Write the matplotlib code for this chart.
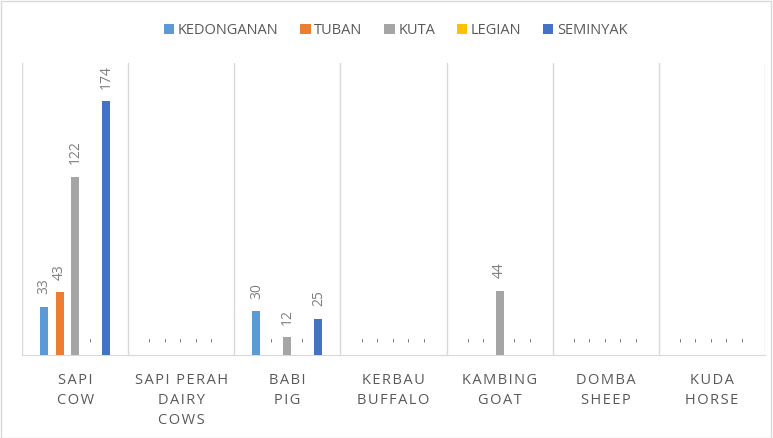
import matplotlib
matplotlib.use("Agg")
from matplotlib import pyplot as plt
import numpy as np

# data
categories = ["SAPI\nCOW", "SAPI PERAH\nDAIRY\nCOWS", "BABI\nPIG", "KERBAU\nBUFFALO",
              "KAMBING\nGOAT", "DOMBA\nSHEEP", "KUDA\nHORSE"]
series = ["KEDONGANAN", "TUBAN", "KUTA", "LEGIAN", "SEMINYAK"]
kedonganan = [33, 0, 30, 0, 0, 0, 0]
tuban = [43, 0, 0, 0, 0, 0, 0]
kuta = [122, 0, 12, 0, 44, 0, 0]
legian = [0, 0, 0, 0, 0, 0, 0]
seminyak = [174, 0, 25, 0, 0, 0, 0]
colors = ["#5B9BD5", "#ED7D31", "#A5A5A5", "#FFC000", "#4472C4"]

plt.rcParams['font.family'] = ['Open Sans', 'DejaVu Sans']


def spaced(s):
    # letter spacing like the original axis labels
    return "\n".join("\u200a".join(line) for line in s.split("\n"))


fig = plt.figure(figsize=(7.73, 4.38), dpi=100)
ax = fig.add_axes([0.0285, 0.1895, 0.9612, 0.6665])

x = np.arange(len(categories))
step = 0.146
width = 0.075
for i, (name, vals) in enumerate(zip(series, [kedonganan, tuban, kuta, legian, seminyak])):
    pos = x + (i - 2) * step
    ax.bar(pos, vals, width, color=colors[i], label=name, zorder=3)
    for p, v in zip(pos, vals):
        txt = str(v) if v else "-"
        ax.annotate(txt, (p, v), xytext=(0, 9), textcoords="offset points",
                    rotation=90, ha="center", va="bottom", fontsize=10, color="#7F7F7F")

ax.set_xlim(-0.5, 6.5)
ax.set_ylim(0, 200)
ax.set_yticks([])
ax.set_xticks(x)
ax.set_xticklabels([spaced(c) for c in categories], fontsize=10.5, color="#595959",
                   linespacing=1.45)
ax.tick_params(axis="x", length=0, pad=13)
for b in np.arange(-0.5, 7, 1):
    ax.axvline(b, color="#D9D9D9", lw=1, zorder=1)
for s in ["top", "right", "left"]:
    ax.spines[s].set_visible(False)
ax.spines["bottom"].set_color("#D9D9D9")

fig.legend(loc="upper center", bbox_to_anchor=(0.512, 0.978), ncol=5, frameon=False,
           fontsize=10.5, labelcolor="#595959", handlelength=0.7, handleheight=0.7,
           handletextpad=0.25, columnspacing=1.5)

# outer border
fig.patches.append(plt.Rectangle((0.001, 0.001), 0.997, 0.997, transform=fig.transFigure,
                                 fill=False, edgecolor="#D9D9D9", lw=1))

fig.savefig("out.png", dpi=100)
